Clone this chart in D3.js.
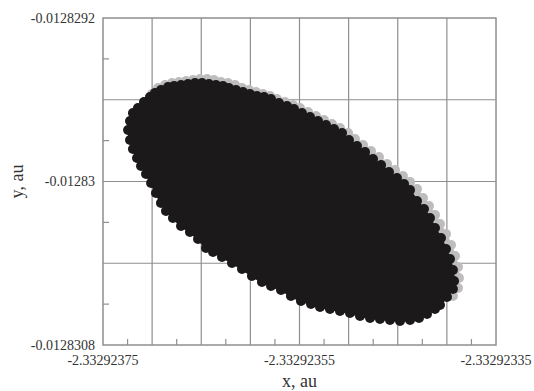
<!DOCTYPE html>
<html>
<head>
<meta charset="utf-8">
<script src="https://cdn.jsdelivr.net/npm/d3@7"></script>
<style>
  html, body { margin: 0; padding: 0; background: #fff; }
  svg { display: block; }
  text { font-family: "Liberation Serif", "Times New Roman", serif; fill: #333; }
</style>
</head>
<body>
<svg id="chart" width="534" height="391"></svg>
<script>
// Axis domains and tick labels
const xDomain = [-2.33292375, -2.33292335];
const yDomain = [-0.0128308, -0.0128292];
const xTickLabels = ["-2.33292375", "-2.33292355", "-2.33292335"];
const yTickLabels = ["-0.0128308", "-0.01283", "-0.0128292"];
const xGrid = [-2.3329237, -2.33292365, -2.3329236, -2.33292355, -2.3329235, -2.33292345, -2.3329234];
const yGrid = [-0.0128304, -0.0128300, -0.0128296];
const xMinor = [-2.332923725, -2.332923675, -2.332923625, -2.332923575, -2.332923525, -2.332923475, -2.332923425, -2.332923375];
const yMinor = [-0.0128306, -0.0128302, -0.0128298, -0.0128294];

// Outer points of run A (black cloud), [x, y] in au
const runA = [
  [-2.3329237245, -0.0128297480], [-2.3329237225, -0.0128297040], [-2.3329237195, -0.0128296648],
  [-2.3329237144, -0.0128296404], [-2.3329237083, -0.0128296110], [-2.3329237022, -0.0128295865],
  [-2.3329236971, -0.0128295670], [-2.3329236910, -0.0128295523], [-2.3329236838, -0.0128295376],
  [-2.3329236777, -0.0128295327], [-2.3329236706, -0.0128295278], [-2.3329236635, -0.0128295229],
  [-2.3329236564, -0.0128295180], [-2.3329236492, -0.0128295180], [-2.3329236421, -0.0128295229],
  [-2.3329236350, -0.0128295278], [-2.3329236279, -0.0128295327], [-2.3329236218, -0.0128295425],
  [-2.3329236146, -0.0128295523], [-2.3329236075, -0.0128295621], [-2.3329236004, -0.0128295719],
  [-2.3329235933, -0.0128295817], [-2.3329235861, -0.0128295865], [-2.3329235790, -0.0128295963],
  [-2.3329235709, -0.0128296159], [-2.3329235627, -0.0128296306], [-2.3329235556, -0.0128296453],
  [-2.3329235475, -0.0128296648], [-2.3329235393, -0.0128296844], [-2.3329235312, -0.0128297040],
  [-2.3329235230, -0.0128297236], [-2.3329235149, -0.0128297431], [-2.3329235067, -0.0128297627],
  [-2.3329234996, -0.0128297969], [-2.3329234915, -0.0128298263], [-2.3329234833, -0.0128298557],
  [-2.3329234752, -0.0128298899], [-2.3329234670, -0.0128299193], [-2.3329234589, -0.0128299535],
  [-2.3329234508, -0.0128299829], [-2.3329234436, -0.0128300122], [-2.3329234375, -0.0128300416],
  [-2.3329234304, -0.0128300954], [-2.3329234233, -0.0128301346], [-2.3329234172, -0.0128301786],
  [-2.3329234121, -0.0128302275], [-2.3329234060, -0.0128302765], [-2.3329234009, -0.0128303303],
  [-2.3329233968, -0.0128303792], [-2.3329233938, -0.0128304330], [-2.3329233927, -0.0128304869],
  [-2.3329233938, -0.0128305260], [-2.3329233999, -0.0128305651], [-2.3329234070, -0.0128306043],
  [-2.3329234121, -0.0128306239], [-2.3329234202, -0.0128306483], [-2.3329234284, -0.0128306679],
  [-2.3329234375, -0.0128306777], [-2.3329234477, -0.0128306826], [-2.3329234579, -0.0128306777],
  [-2.3329234681, -0.0128306728], [-2.3329234782, -0.0128306679], [-2.3329234884, -0.0128306581],
  [-2.3329234986, -0.0128306434], [-2.3329235088, -0.0128306336], [-2.3329235190, -0.0128306239],
  [-2.3329235291, -0.0128306140], [-2.3329235383, -0.0128305994], [-2.3329235485, -0.0128305847],
  [-2.3329235587, -0.0128305603], [-2.3329235688, -0.0128305309], [-2.3329235790, -0.0128305113],
  [-2.3329235882, -0.0128304918], [-2.3329235984, -0.0128304624], [-2.3329236085, -0.0128304281],
  [-2.3329236187, -0.0128303988], [-2.3329236289, -0.0128303694], [-2.3329236380, -0.0128303450],
  [-2.3329236452, -0.0128303254], [-2.3329236533, -0.0128302814], [-2.3329236615, -0.0128302471],
  [-2.3329236706, -0.0128302177], [-2.3329236788, -0.0128301786], [-2.3329236859, -0.0128301443],
  [-2.3329236910, -0.0128301052], [-2.3329236961, -0.0128300563], [-2.3329237011, -0.0128300073],
  [-2.3329237062, -0.0128299633], [-2.3329237113, -0.0128299242], [-2.3329237154, -0.0128298850],
  [-2.3329237195, -0.0128298410], [-2.3329237225, -0.0128297969]
];

// Outer points of run B (grey cloud), upper/right envelope, [x, y] in au
const runB = [
  [-2.3329237001, -0.0128295719], [-2.3329236940, -0.0128295425], [-2.3329236869, -0.0128295278],
  [-2.3329236798, -0.0128295180], [-2.3329236727, -0.0128295132], [-2.3329236655, -0.0128295083],
  [-2.3329236584, -0.0128295034], [-2.3329236513, -0.0128294985], [-2.3329236441, -0.0128294985],
  [-2.3329236370, -0.0128295034], [-2.3329236299, -0.0128295132], [-2.3329236228, -0.0128295180],
  [-2.3329236156, -0.0128295278], [-2.3329236085, -0.0128295425], [-2.3329236014, -0.0128295523],
  [-2.3329235943, -0.0128295621], [-2.3329235872, -0.0128295719], [-2.3329235800, -0.0128295817],
  [-2.3329235729, -0.0128295963], [-2.3329235648, -0.0128296110], [-2.3329235566, -0.0128296257],
  [-2.3329235495, -0.0128296404], [-2.3329235413, -0.0128296599], [-2.3329235332, -0.0128296795],
  [-2.3329235251, -0.0128296991], [-2.3329235169, -0.0128297187], [-2.3329235088, -0.0128297382],
  [-2.3329235006, -0.0128297627], [-2.3329234935, -0.0128297921], [-2.3329234854, -0.0128298214],
  [-2.3329234772, -0.0128298508], [-2.3329234691, -0.0128298801], [-2.3329234609, -0.0128299144],
  [-2.3329234528, -0.0128299437], [-2.3329234447, -0.0128299731], [-2.3329234375, -0.0128300025],
  [-2.3329234304, -0.0128300367], [-2.3329234243, -0.0128300807], [-2.3329234182, -0.0128301199],
  [-2.3329234121, -0.0128301639], [-2.3329234070, -0.0128302080], [-2.3329234009, -0.0128302569],
  [-2.3329233958, -0.0128303107], [-2.3329233917, -0.0128303645], [-2.3329233887, -0.0128304183],
  [-2.3329233877, -0.0128304722], [-2.3329233887, -0.0128305211], [-2.3329233938, -0.0128305603]
];

const svg = d3.select("#chart");
const plotLeft = 103, plotRight = 496, plotTop = 18, plotBottom = 345;

const x = d3.scaleLinear().domain(xDomain).range([plotLeft, plotRight]);
const y = d3.scaleLinear().domain(yDomain).range([plotBottom, plotTop]);

const gridColor = "#8f8f8f";

// grid
const grid = svg.append("g").attr("stroke", gridColor).attr("stroke-width", 1.2);
grid.selectAll(".gx").data(xGrid).join("line")
  .attr("x1", d => x(d)).attr("x2", d => x(d)).attr("y1", plotTop).attr("y2", plotBottom);
grid.selectAll(".gy").data(yGrid).join("line")
  .attr("y1", d => y(d)).attr("y2", d => y(d)).attr("x1", plotLeft).attr("x2", plotRight);

// minor ticks
grid.selectAll(".mx").data(xMinor).join("line")
  .attr("x1", d => x(d)).attr("x2", d => x(d)).attr("y1", plotBottom).attr("y2", plotBottom - 6);
grid.selectAll(".my").data(yMinor).join("line")
  .attr("y1", d => y(d)).attr("y2", d => y(d)).attr("x1", plotLeft).attr("x2", plotLeft + 6);

// point clouds: envelope fill plus the outer points
const line = d3.line().x(d => x(d[0])).y(d => y(d[1])).curve(d3.curveLinearClosed);
const r = 5;

function drawRun(data, color) {
  const g = svg.append("g");
  g.append("path").attr("d", line(data)).attr("fill", color).attr("stroke", color)
    .attr("stroke-width", 2).attr("stroke-linejoin", "round");
  g.selectAll("circle").data(data).join("circle")
    .attr("cx", d => x(d[0])).attr("cy", d => y(d[1])).attr("r", r).attr("fill", color);
}
drawRun(runB, "#bdbdbd");
drawRun(runA, "#1c191a");

// frame
svg.append("rect").attr("x", plotLeft).attr("y", plotTop)
  .attr("width", plotRight - plotLeft).attr("height", plotBottom - plotTop)
  .attr("fill", "none").attr("stroke", gridColor).attr("stroke-width", 1.5);

// tick labels
const xLabelVals = xTickLabels.map(Number);
svg.selectAll(".xl").data(xTickLabels).join("text")
  .attr("x", (d, i) => x(xLabelVals[i])).attr("y", 360)
  .attr("text-anchor", "middle").attr("dominant-baseline", "central")
  .attr("font-size", 14).text(d => d);

const yLabelVals = yTickLabels.map(Number);
svg.selectAll(".yl").data(yTickLabels).join("text")
  .attr("x", 95).attr("y", (d, i) => y(yLabelVals[i]))
  .attr("text-anchor", "end").attr("dominant-baseline", "central")
  .attr("font-size", 14).text(d => d);

// axis titles
svg.append("text").attr("x", (plotLeft + plotRight) / 2).attr("y", 381)
  .attr("text-anchor", "middle").attr("dominant-baseline", "central")
  .attr("font-size", 18).text("x, au");
svg.append("text").attr("transform", `translate(17,${(plotTop + plotBottom) / 2}) rotate(-90)`)
  .attr("text-anchor", "middle").attr("dominant-baseline", "central")
  .attr("font-size", 18).text("y, au");
</script>
</body>
</html>
